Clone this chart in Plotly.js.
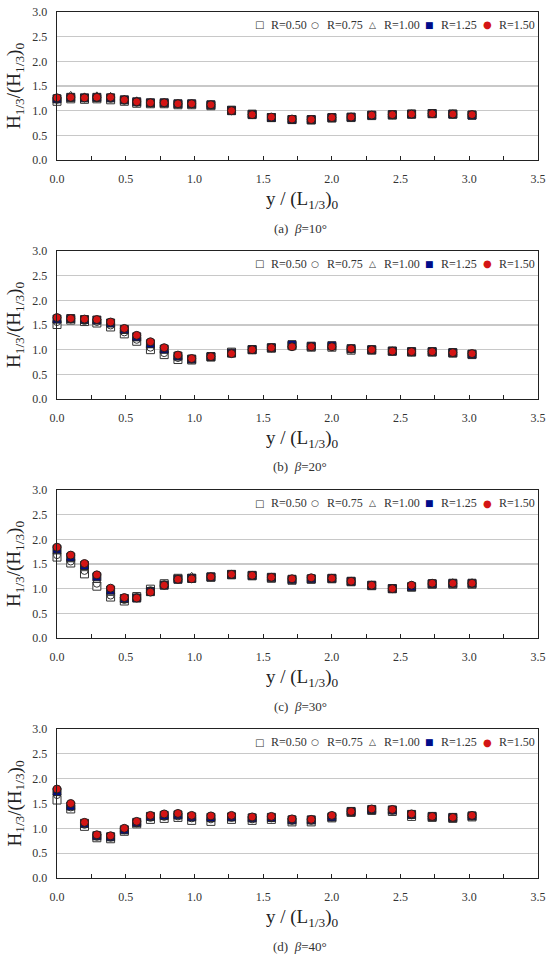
<!DOCTYPE html>
<html>
<head>
<meta charset="utf-8">
<script src="https://cdn.plot.ly/plotly-3.0.1.min.js"></script>
<style>
  html, body { margin: 0; padding: 0; background: #fff; }
  #chart { width: 547px; height: 955px; }
</style>
</head>
<body>
<div id="chart"></div>
<script>
// Relative position along the breakwater, y / (L1/3)0
const xPos = [0.00, 0.10, 0.20, 0.29, 0.39, 0.49, 0.58, 0.68, 0.78, 0.88, 0.98,
              1.12, 1.27, 1.42, 1.56, 1.71, 1.85, 2.00, 2.14, 2.29, 2.44, 2.58, 2.73, 2.88, 3.02];

const seriesNames = ['R=0.50', 'R=0.75', 'R=1.00', 'R=1.25', 'R=1.50'];
const panelCaptions = ['(a)', '(b)', '(c)', '(d)'];
const panelAngles = ['10°', '20°', '30°', '40°'];
const yTicks = [0.0, 0.5, 1.0, 1.5, 2.0, 2.5, 3.0];
const xTicks = [0.0, 0.5, 1.0, 1.5, 2.0, 2.5, 3.0, 3.5];

// Wave height ratio H1/3/(H1/3)0, beta = 10 deg
const b10_R050 = [1.19,1.24,1.23,1.24,1.22,1.19,1.15,1.14,1.14,1.12,1.12,1.10,1.01,0.93,0.86,0.82,0.81,0.85,0.86,0.90,0.91,0.93,0.94,0.93,0.91];
const b10_R075 = [1.22,1.26,1.25,1.25,1.24,1.20,1.16,1.15,1.15,1.13,1.13,1.11,0.99,0.92,0.86,0.83,0.81,0.85,0.87,0.90,0.91,0.93,0.94,0.93,0.91];
const b10_R100 = [1.25,1.32,1.29,1.31,1.30,1.24,1.21,1.17,1.17,1.15,1.15,1.12,1.00,0.92,0.87,0.82,0.82,0.86,0.87,0.91,0.92,0.94,0.94,0.93,0.92];
const b10_R125 = [1.24,1.27,1.26,1.27,1.26,1.22,1.18,1.16,1.16,1.14,1.14,1.12,1.00,0.92,0.86,0.82,0.82,0.86,0.87,0.91,0.92,0.93,0.94,0.93,0.91];
const b10_R150 = [1.26,1.27,1.26,1.27,1.27,1.22,1.18,1.16,1.16,1.14,1.14,1.12,1.00,0.92,0.87,0.83,0.82,0.86,0.87,0.91,0.92,0.93,0.94,0.93,0.92];

// beta = 20 deg
const b20_R050 = [1.51,1.60,1.57,1.54,1.46,1.32,1.17,1.00,0.90,0.80,0.79,0.85,0.95,1.00,1.03,1.08,1.05,1.05,0.99,0.99,0.97,0.95,0.95,0.93,0.90];
const b20_R075 = [1.56,1.61,1.58,1.56,1.49,1.35,1.20,1.04,0.93,0.83,0.80,0.86,0.94,1.00,1.03,1.08,1.06,1.06,1.00,1.00,0.97,0.95,0.95,0.93,0.91];
const b20_R100 = [1.59,1.62,1.60,1.58,1.52,1.38,1.23,1.08,0.97,0.85,0.81,0.86,0.93,1.01,1.04,1.09,1.07,1.07,1.01,1.00,0.97,0.96,0.96,0.94,0.91];
const b20_R125 = [1.62,1.63,1.61,1.60,1.54,1.41,1.26,1.12,1.01,0.87,0.81,0.86,0.93,1.00,1.04,1.10,1.07,1.08,1.02,1.00,0.97,0.96,0.96,0.94,0.91];
const b20_R150 = [1.65,1.63,1.62,1.61,1.56,1.43,1.29,1.16,1.04,0.89,0.82,0.86,0.92,1.00,1.04,1.06,1.06,1.06,1.02,1.00,0.97,0.96,0.96,0.94,0.92];

// beta = 30 deg
const b30_R050 = [1.64,1.52,1.30,1.05,0.83,0.75,0.84,0.99,1.10,1.21,1.21,1.23,1.28,1.26,1.21,1.17,1.19,1.20,1.14,1.06,1.00,1.03,1.09,1.09,1.09];
const b30_R075 = [1.68,1.55,1.36,1.10,0.86,0.77,0.83,0.97,1.09,1.20,1.22,1.24,1.28,1.27,1.22,1.18,1.20,1.20,1.14,1.06,1.00,1.05,1.10,1.10,1.10];
const b30_R100 = [1.74,1.58,1.40,1.16,0.90,0.78,0.82,0.96,1.08,1.21,1.26,1.25,1.30,1.28,1.22,1.19,1.21,1.21,1.15,1.07,1.00,1.08,1.12,1.13,1.13];
const b30_R125 = [1.80,1.64,1.47,1.24,0.97,0.80,0.81,0.94,1.07,1.19,1.21,1.24,1.29,1.27,1.23,1.19,1.20,1.21,1.15,1.07,1.00,1.04,1.10,1.11,1.11];
const b30_R150 = [1.84,1.68,1.51,1.28,1.01,0.82,0.81,0.93,1.07,1.19,1.20,1.24,1.29,1.27,1.23,1.20,1.22,1.21,1.15,1.07,1.00,1.07,1.11,1.11,1.11];

// beta = 40 deg
const b40_R050 = [1.57,1.39,1.04,0.81,0.79,0.94,1.09,1.18,1.20,1.22,1.16,1.14,1.18,1.16,1.18,1.13,1.13,1.21,1.32,1.36,1.34,1.24,1.22,1.20,1.23];
const b40_R075 = [1.67,1.42,1.07,0.83,0.81,0.96,1.10,1.21,1.23,1.24,1.20,1.18,1.21,1.18,1.20,1.15,1.15,1.22,1.33,1.37,1.35,1.26,1.23,1.21,1.24];
const b40_R100 = [1.71,1.44,1.09,0.84,0.82,0.97,1.11,1.23,1.25,1.26,1.22,1.21,1.22,1.20,1.21,1.16,1.16,1.23,1.33,1.38,1.36,1.27,1.23,1.21,1.25];
const b40_R125 = [1.74,1.45,1.10,0.85,0.83,0.97,1.12,1.24,1.26,1.27,1.23,1.22,1.23,1.21,1.22,1.17,1.17,1.23,1.34,1.38,1.37,1.28,1.24,1.22,1.25];
const b40_R150 = [1.79,1.50,1.12,0.87,0.85,1.00,1.14,1.26,1.29,1.30,1.26,1.25,1.26,1.23,1.24,1.19,1.18,1.26,1.34,1.39,1.38,1.29,1.24,1.22,1.26];

const panels = [
  [b10_R050, b10_R075, b10_R100, b10_R125, b10_R150],
  [b20_R050, b20_R075, b20_R100, b20_R125, b20_R150],
  [b30_R050, b30_R075, b30_R100, b30_R125, b30_R150],
  [b40_R050, b40_R075, b40_R100, b40_R125, b40_R150]
];

// ---- styling and layout ----
const FONT = 'Liberation Serif, Times New Roman, serif';
const W = 547, H = 955;
const plotL = 57, plotR = 538;
const tops = [12, 251, 490, 729];
const bottoms = [160, 399, 638, 878];
const plotW = plotR - plotL;
const py = p => 1 - p / H;            // pixel row -> paper y
const px = p => (p - plotL) / plotW;   // pixel column -> paper x

const markerStyles = [
  {symbol: 'square', size: 8, color: '#ffffff', line: {color: '#333333', width: 1}},
  {symbol: 'circle', size: 7, color: '#ffffff', line: {color: '#333333', width: 1}},
  {symbol: 'triangle-up', size: 7, color: '#ffffff', line: {color: '#333333', width: 1}},
  {symbol: 'square', size: 8, color: '#000c8a', line: {color: '#222222', width: 1}},
  {symbol: 'circle', size: 8, color: '#d41414', line: {color: '#222222', width: 1}}
];

// in-plot key: glyph + label for each series, laid out in one row
const keyGlyphs = [
  {ch: '□', color: '#333333', size: 10},
  {ch: '○', color: '#333333', size: 9},
  {ch: '△', color: '#333333', size: 9},
  {ch: '■', color: '#000c8a', size: 9},
  {ch: '●', color: '#d41414', size: 10}
];
const keyX = [259, 315, 372, 429, 487];

const data = [];
const layout = {
  width: W, height: H,
  margin: {l: plotL, r: W - plotR, t: 0, b: 0},
  paper_bgcolor: '#ffffff', plot_bgcolor: '#ffffff',
  font: {family: FONT, color: '#222222', size: 12},
  showlegend: false,
  annotations: []
};

panels.forEach((series, i) => {
  const n = i + 1;
  const xa = n === 1 ? 'x' : 'x' + n;
  const ya = n === 1 ? 'y' : 'y' + n;

  series.forEach((vals, k) => {
    data.push({
      type: 'scatter', mode: 'markers',
      x: xPos, y: vals,
      xaxis: xa, yaxis: ya,
      name: seriesNames[k],
      marker: markerStyles[k],
      cliponaxis: false
    });
  });

  const dom = [py(bottoms[i]), py(tops[i])];
  layout['xaxis' + (n === 1 ? '' : n)] = {
    anchor: ya, domain: [0, 1], range: [0, 3.5],
    tickvals: xTicks, tickformat: '.1f',
    ticks: 'inside', ticklen: 4, tickcolor: '#222', ticklabelstandoff: 7,
    minor: {dtick: 0.25, tick0: 0, ticks: 'inside', ticklen: 4, tickcolor: '#222', showgrid: false},
    showgrid: false, zeroline: false,
    showline: true, mirror: true, linecolor: '#222', linewidth: 1.3,
    tickfont: {family: FONT, size: 12, color: '#333'},
    fixedrange: true
  };
  layout['yaxis' + (n === 1 ? '' : n)] = {
    anchor: xa, domain: dom, range: [0, 3.0],
    tickvals: yTicks, tickformat: '.1f',
    ticks: '', ticklabelstandoff: 6,
    showgrid: true, gridcolor: '#c8c8c8', gridwidth: 1.3,
    zeroline: false,
    showline: true, mirror: true, linecolor: '#222', linewidth: 1.3,
    tickfont: {family: FONT, size: 12, color: '#333'},
    fixedrange: true
  };

  // key row near the top of each panel
  const keyY = py(tops[i] + 13);
  seriesNames.forEach((nm, k) => {
    const g = keyGlyphs[k];
    layout.annotations.push({
      xref: 'paper', yref: 'paper',
      x: px(keyX[k]), y: keyY, xanchor: 'center', yanchor: 'middle',
      text: g.ch, showarrow: false,
      font: {family: 'DejaVu Sans', size: g.size, color: g.color}
    });
    layout.annotations.push({
      xref: 'paper', yref: 'paper',
      x: px(keyX[k] + 10), y: keyY, xanchor: 'left', yanchor: 'middle',
      text: nm, showarrow: false,
      font: {family: FONT, size: 12, color: '#333'}
    });
  });

  // axis titles and panel caption
  layout.annotations.push({
    xref: 'paper', yref: 'paper',
    x: px(15), y: py((tops[i] + bottoms[i]) / 2),
    xanchor: 'center', yanchor: 'middle',
    text: 'H<sub>1/3</sub>/(H<sub>1/3</sub>)<sub>0</sub>',
    textangle: -90, showarrow: false,
    font: {family: FONT, size: 19, color: '#222'}
  });
  layout.annotations.push({
    xref: 'paper', yref: 'paper',
    x: px(302), y: py(bottoms[i] + 40),
    xanchor: 'center', yanchor: 'middle',
    text: 'y / (L<sub>1/3</sub>)<sub>0</sub>',
    showarrow: false,
    font: {family: FONT, size: 19, color: '#222'}
  });
  layout.annotations.push({
    xref: 'paper', yref: 'paper',
    x: px(300), y: py(bottoms[i] + 68),
    xanchor: 'center', yanchor: 'middle',
    text: panelCaptions[i] + '&nbsp;&nbsp;<i>β</i>=' + panelAngles[i],
    showarrow: false,
    font: {family: FONT, size: 13, color: '#333'}
  });
});

Plotly.newPlot('chart', data, layout, {displayModeBar: false, staticPlot: true});
</script>
</body>
</html>
